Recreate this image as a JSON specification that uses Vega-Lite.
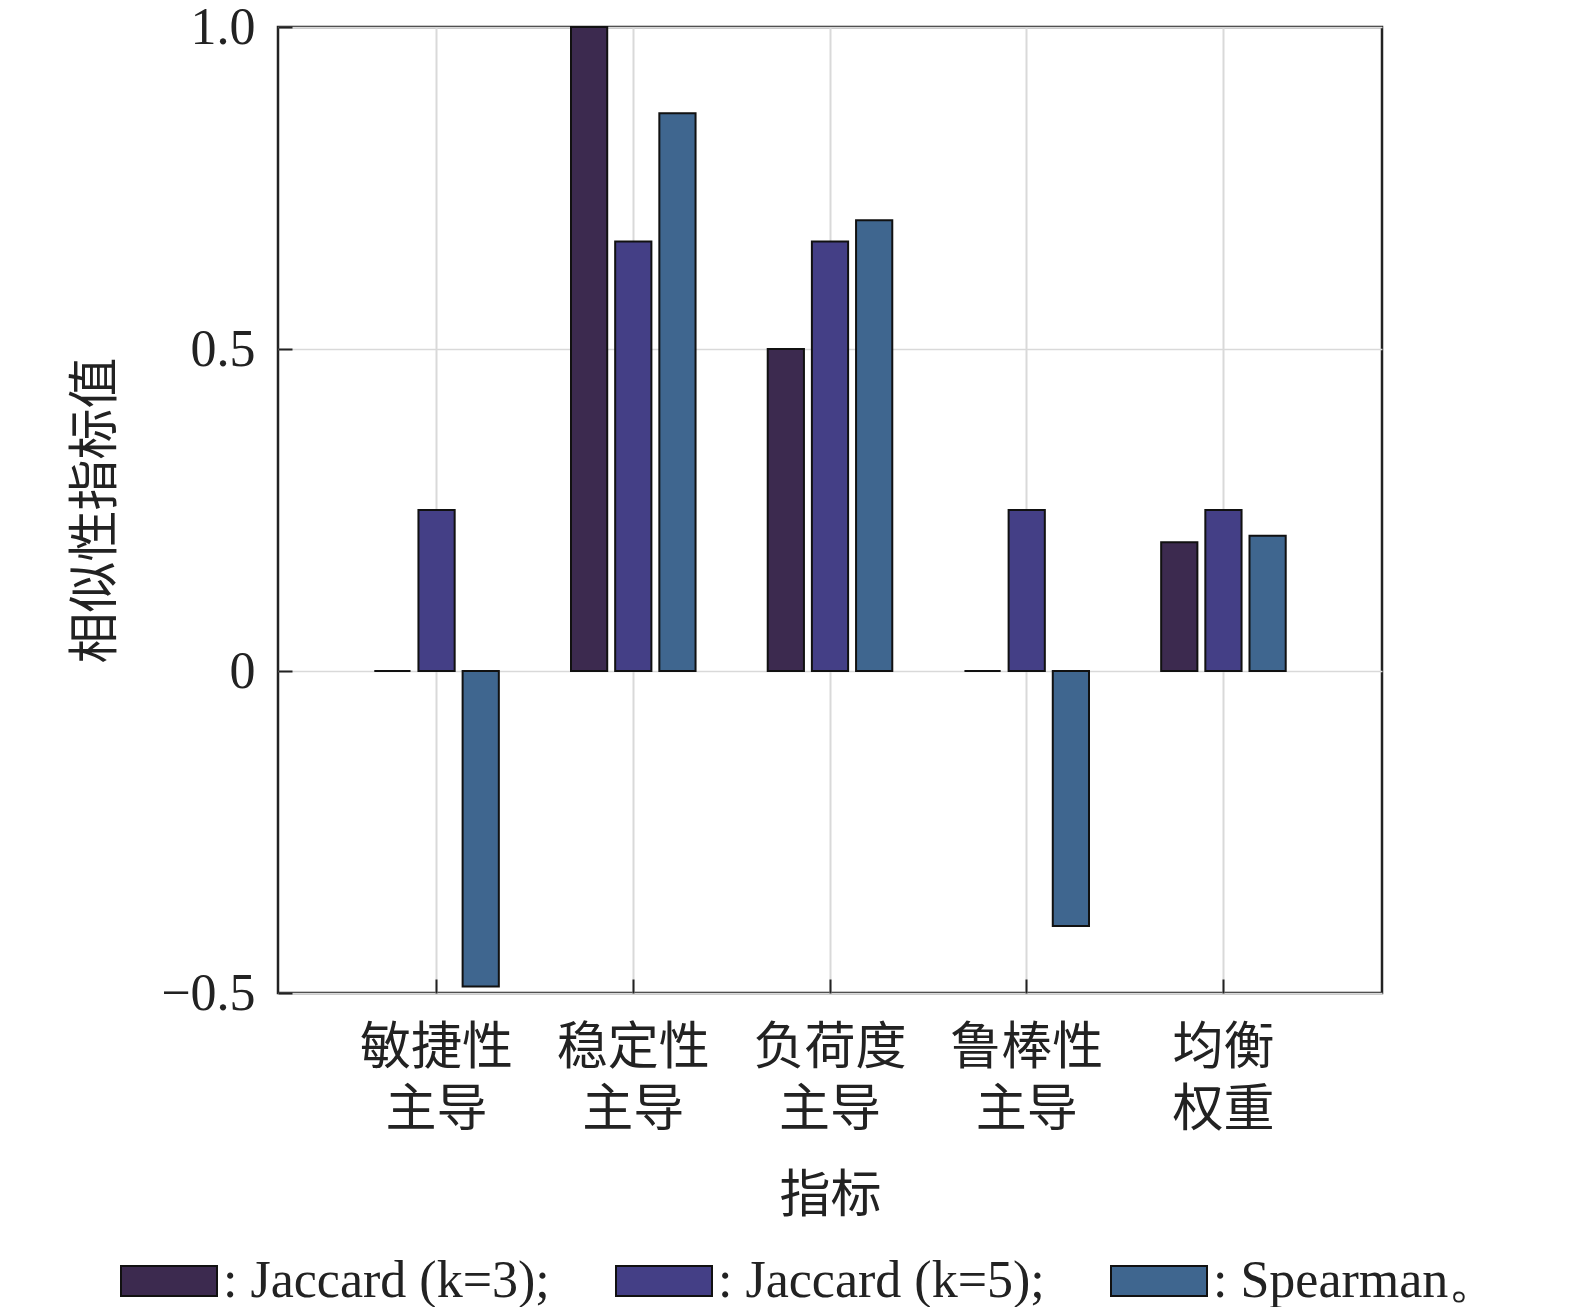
{
  "$schema": "https://vega.github.io/schema/vega-lite/v6.json",
  "width": 1104,
  "height": 966,
  "padding": {"left": 70, "top": 1, "right": 5, "bottom": 0},
  "background": "white",
  "config": {
    "view": {"stroke": "#222222", "strokeWidth": 2.5},
    "font": "Liberation Serif",
    "axis": {"domain": false, "labelColor": "#222222", "titleColor": "#222222", "tickColor": "#222222", "tickWidth": 2}
  },
  "data": {
    "values": [
      {"cat": "敏捷性|主导", "series": ": Jaccard (k=3);", "value": 0},
      {"cat": "敏捷性|主导", "series": ": Jaccard (k=5);", "value": 0.25},
      {"cat": "敏捷性|主导", "series": ": Spearman。", "value": -0.49},
      {"cat": "稳定性|主导", "series": ": Jaccard (k=3);", "value": 1.0},
      {"cat": "稳定性|主导", "series": ": Jaccard (k=5);", "value": 0.667},
      {"cat": "稳定性|主导", "series": ": Spearman。", "value": 0.866},
      {"cat": "负荷度|主导", "series": ": Jaccard (k=3);", "value": 0.5},
      {"cat": "负荷度|主导", "series": ": Jaccard (k=5);", "value": 0.667},
      {"cat": "负荷度|主导", "series": ": Spearman。", "value": 0.7},
      {"cat": "鲁棒性|主导", "series": ": Jaccard (k=3);", "value": 0},
      {"cat": "鲁棒性|主导", "series": ": Jaccard (k=5);", "value": 0.25},
      {"cat": "鲁棒性|主导", "series": ": Spearman。", "value": -0.396},
      {"cat": "均衡|权重", "series": ": Jaccard (k=3);", "value": 0.2},
      {"cat": "均衡|权重", "series": ": Jaccard (k=5);", "value": 0.25},
      {"cat": "均衡|权重", "series": ": Spearman。", "value": 0.21}
    ]
  },
  "encoding": {
    "x": {
      "field": "cat",
      "type": "nominal",
      "sort": null,
      "scale": {"paddingInner": 0, "paddingOuter": 0.306},
      "axis": {
        "title": "指标",
        "titleFont": "Noto Sans CJK SC",
        "titleFontSize": 51,
        "titleFontWeight": "normal",
        "titlePadding": 36,
        "labelFont": "Noto Sans CJK SC",
        "labelFontSize": 51,
        "labelAngle": 0,
        "labelLineHeight": 62,
        "labelPadding": 44,
        "labelExpr": "split(datum.label, '|')",
        "tickSize": -14,
        "bandPosition": 0.5,
        "grid": true,
        "gridColor": "#d9d9d9",
        "gridWidth": 2
      }
    }
  },
  "layer": [
    {
      "mark": {"type": "bar", "stroke": "#111111", "strokeWidth": 2},
      "encoding": {
        "xOffset": {
          "field": "series",
          "type": "nominal",
          "sort": null,
          "scale": {"paddingInner": 0.18, "paddingOuter": 0.817}
        },
        "y": {
          "field": "value",
          "type": "quantitative",
          "scale": {"domain": [-0.5, 1.0], "nice": false},
          "axis": {
            "title": "相似性指标值",
            "titleFont": "Noto Sans CJK SC",
            "titleFontSize": 51,
            "titleFontWeight": "normal",
            "titlePadding": 38,
            "values": [-0.5, 0, 0.5, 1.0],
            "labelExpr": "datum.value == 0 ? '0' : format(datum.value, '.1f')",
            "labelFontSize": 52,
            "labelPadding": 37,
            "tickSize": -14,
            "grid": true,
            "gridColor": "#d9d9d9",
            "gridWidth": 1.5
          }
        },
        "color": {
          "field": "series",
          "type": "nominal",
          "sort": null,
          "scale": {
            "domain": [": Jaccard (k=3);", ": Jaccard (k=5);", ": Spearman。"],
            "range": ["#3c2a4f", "#443f86", "#3f668f"]
          },
          "legend": {
            "title": null,
            "orient": "none",
            "legendX": -158,
            "legendY": 1205,
            "direction": "horizontal",
            "symbolType": "M-1,-0.31L1,-0.31L1,0.31L-1,0.31Z",
            "symbolSize": 9216,
            "symbolStrokeColor": "#111111",
            "symbolStrokeWidth": 2,
            "symbolOpacity": 1,
            "labelFont": "Liberation Serif",
            "labelFontSize": 52,
            "labelColor": "#222222",
            "labelLimit": 0,
            "labelOffset": 5,
            "columnPadding": 62
          }
        }
      }
    },
    {
      "mark": {"type": "rule", "color": "#111111", "strokeWidth": 1.5},
      "encoding": {"y": {"datum": 0}}
    }
  ]
}
